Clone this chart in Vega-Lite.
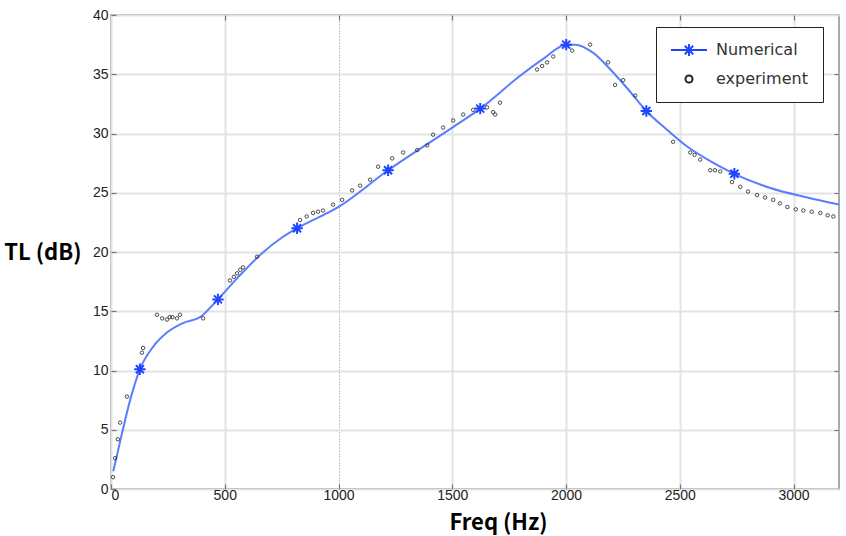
{
  "$schema": "https://vega.github.io/schema/vega-lite/v6.json",
  "width": 728,
  "height": 474,
  "autosize": "none",
  "padding": {"left": 111, "top": 15, "right": 7, "bottom": 47},
  "background": "white",
  "config": {
    "view": {"stroke": "#8c8c8c", "strokeWidth": 1.5},
    "axis": {
      "labelFont": "Liberation Sans",
      "labelFontSize": 14,
      "labelColor": "#222",
      "titleFont": "Noto Sans CJK KR",
      "titleFontWeight": "bold",
      "titleFontSize": 22,
      "titleColor": "black",
      "domain": false,
      "tickColor": "#777777",
      "tickSize": -5,
      "tickWidth": 1.2,
      "gridColor": "#e3e3e3",
      "gridWidth": 2
    },
    "legend": {
      "title": null,
      "orient": "none",
      "legendX": 545,
      "legendY": 12,
      "direction": "vertical",
      "strokeColor": "#222",
      "fillColor": "white",
      "padding": 15,
      "rowPadding": 11,
      "symbolOffset": 10,
      "symbolOpacity": 1,
      "labelFont": "DejaVu Sans",
      "labelFontSize": 16,
      "labelColor": "#333",
      "labelOffset": 19,
      "labelLimit": 200
    }
  },
  "data": {
    "values": [
      {"s": "curve", "f": 10, "tl": 1.5},
      {"s": "curve", "f": 40, "tl": 4.0},
      {"s": "curve", "f": 84, "tl": 7.5},
      {"s": "curve", "f": 127, "tl": 10.1},
      {"s": "curve", "f": 185, "tl": 12.0},
      {"s": "curve", "f": 246, "tl": 13.2},
      {"s": "curve", "f": 317, "tl": 14.0},
      {"s": "curve", "f": 391, "tl": 14.5},
      {"s": "curve", "f": 470, "tl": 16.0},
      {"s": "curve", "f": 560, "tl": 17.9},
      {"s": "curve", "f": 664, "tl": 19.9},
      {"s": "curve", "f": 750, "tl": 21.2},
      {"s": "curve", "f": 818, "tl": 22.0},
      {"s": "curve", "f": 1000, "tl": 23.8},
      {"s": "curve", "f": 1218, "tl": 26.9},
      {"s": "curve", "f": 1500, "tl": 30.5},
      {"s": "curve", "f": 1623, "tl": 32.1},
      {"s": "curve", "f": 1800, "tl": 34.9},
      {"s": "curve", "f": 1900, "tl": 36.3},
      {"s": "curve", "f": 2001, "tl": 37.5},
      {"s": "curve", "f": 2040, "tl": 37.5},
      {"s": "curve", "f": 2120, "tl": 36.8},
      {"s": "curve", "f": 2195, "tl": 35.4},
      {"s": "curve", "f": 2270, "tl": 33.8},
      {"s": "curve", "f": 2353, "tl": 31.9},
      {"s": "curve", "f": 2445, "tl": 30.3},
      {"s": "curve", "f": 2533, "tl": 28.9},
      {"s": "curve", "f": 2640, "tl": 27.6},
      {"s": "curve", "f": 2740, "tl": 26.6},
      {"s": "curve", "f": 2898, "tl": 25.4},
      {"s": "curve", "f": 3061, "tl": 24.6},
      {"s": "curve", "f": 3200, "tl": 24.0},
      {"s": "Numerical", "f": 127, "tl": 10.1},
      {"s": "Numerical", "f": 470, "tl": 16.0},
      {"s": "Numerical", "f": 818, "tl": 22.0},
      {"s": "Numerical", "f": 1218, "tl": 26.9},
      {"s": "Numerical", "f": 1623, "tl": 32.1},
      {"s": "Numerical", "f": 2001, "tl": 37.5},
      {"s": "Numerical", "f": 2353, "tl": 31.9},
      {"s": "Numerical", "f": 2740, "tl": 26.6},
      {"s": "experiment", "f": 9, "tl": 1.0},
      {"s": "experiment", "f": 18, "tl": 2.6},
      {"s": "experiment", "f": 30, "tl": 4.2},
      {"s": "experiment", "f": 40, "tl": 5.6},
      {"s": "experiment", "f": 70, "tl": 7.8},
      {"s": "experiment", "f": 136, "tl": 11.5},
      {"s": "experiment", "f": 141, "tl": 11.9},
      {"s": "experiment", "f": 202, "tl": 14.7},
      {"s": "experiment", "f": 225, "tl": 14.4},
      {"s": "experiment", "f": 246, "tl": 14.3},
      {"s": "experiment", "f": 258, "tl": 14.5},
      {"s": "experiment", "f": 270, "tl": 14.5},
      {"s": "experiment", "f": 290, "tl": 14.4},
      {"s": "experiment", "f": 303, "tl": 14.7},
      {"s": "experiment", "f": 405, "tl": 14.4},
      {"s": "experiment", "f": 523, "tl": 17.6},
      {"s": "experiment", "f": 540, "tl": 17.9},
      {"s": "experiment", "f": 554, "tl": 18.2},
      {"s": "experiment", "f": 568, "tl": 18.5},
      {"s": "experiment", "f": 580, "tl": 18.7},
      {"s": "experiment", "f": 642, "tl": 19.6},
      {"s": "experiment", "f": 831, "tl": 22.7},
      {"s": "experiment", "f": 860, "tl": 23.0},
      {"s": "experiment", "f": 888, "tl": 23.3},
      {"s": "experiment", "f": 910, "tl": 23.4},
      {"s": "experiment", "f": 932, "tl": 23.5},
      {"s": "experiment", "f": 976, "tl": 24.0},
      {"s": "experiment", "f": 1016, "tl": 24.4},
      {"s": "experiment", "f": 1060, "tl": 25.2},
      {"s": "experiment", "f": 1095, "tl": 25.6},
      {"s": "experiment", "f": 1139, "tl": 26.1},
      {"s": "experiment", "f": 1174, "tl": 27.2},
      {"s": "experiment", "f": 1236, "tl": 27.9},
      {"s": "experiment", "f": 1284, "tl": 28.4},
      {"s": "experiment", "f": 1346, "tl": 28.6},
      {"s": "experiment", "f": 1390, "tl": 29.0},
      {"s": "experiment", "f": 1416, "tl": 29.9},
      {"s": "experiment", "f": 1460, "tl": 30.5},
      {"s": "experiment", "f": 1504, "tl": 31.1},
      {"s": "experiment", "f": 1548, "tl": 31.6},
      {"s": "experiment", "f": 1592, "tl": 32.0},
      {"s": "experiment", "f": 1653, "tl": 32.2},
      {"s": "experiment", "f": 1680, "tl": 31.8},
      {"s": "experiment", "f": 1689, "tl": 31.6},
      {"s": "experiment", "f": 1710, "tl": 32.6},
      {"s": "experiment", "f": 1873, "tl": 35.4},
      {"s": "experiment", "f": 1895, "tl": 35.7},
      {"s": "experiment", "f": 1917, "tl": 36.0},
      {"s": "experiment", "f": 1944, "tl": 36.5},
      {"s": "experiment", "f": 2027, "tl": 37.0},
      {"s": "experiment", "f": 2106, "tl": 37.5},
      {"s": "experiment", "f": 2185, "tl": 36.0},
      {"s": "experiment", "f": 2216, "tl": 34.1},
      {"s": "experiment", "f": 2251, "tl": 34.5},
      {"s": "experiment", "f": 2304, "tl": 33.2},
      {"s": "experiment", "f": 2471, "tl": 29.3},
      {"s": "experiment", "f": 2546, "tl": 28.4},
      {"s": "experiment", "f": 2565, "tl": 28.2},
      {"s": "experiment", "f": 2590, "tl": 27.8},
      {"s": "experiment", "f": 2634, "tl": 26.9},
      {"s": "experiment", "f": 2655, "tl": 26.9},
      {"s": "experiment", "f": 2678, "tl": 26.8},
      {"s": "experiment", "f": 2730, "tl": 25.9},
      {"s": "experiment", "f": 2766, "tl": 25.5},
      {"s": "experiment", "f": 2800, "tl": 25.1},
      {"s": "experiment", "f": 2840, "tl": 24.8},
      {"s": "experiment", "f": 2875, "tl": 24.6},
      {"s": "experiment", "f": 2911, "tl": 24.4},
      {"s": "experiment", "f": 2940, "tl": 24.1},
      {"s": "experiment", "f": 2973, "tl": 23.8},
      {"s": "experiment", "f": 3010, "tl": 23.6},
      {"s": "experiment", "f": 3043, "tl": 23.5},
      {"s": "experiment", "f": 3080, "tl": 23.4},
      {"s": "experiment", "f": 3118, "tl": 23.3},
      {"s": "experiment", "f": 3150, "tl": 23.1},
      {"s": "experiment", "f": 3175, "tl": 23.0}
    ]
  },
  "resolve": {"axis": {"x": "independent", "y": "independent"}},
  "layer": [
    {
      "transform": [{"filter": "datum.s === 'curve'"}],
      "mark": {"type": "line", "interpolate": "monotone", "color": "#5a7dff", "strokeWidth": 2},
      "encoding": {
        "x": {
          "field": "f",
          "type": "quantitative",
          "title": "Freq (Hz)",
          "scale": {"domain": [0, 3200], "nice": false, "zero": false},
          "axis": {
            "values": [0, 500, 1000, 1500, 2000, 2500, 3000],
            "format": "d",
            "labelPadding": 4,
            "titleX": 387,
            "titleY": 33,
            "titleBaseline": "middle",
            "gridDash": {"condition": {"test": "datum.value === 1000", "value": [1, 2]}, "value": []},
            "gridColor": {"condition": {"test": "datum.value === 1000", "value": "#888888"}, "value": "#e3e3e3"},
            "gridWidth": {"condition": {"test": "datum.value === 1000", "value": 1}, "value": 2}
          }
        },
        "y": {
          "field": "tl",
          "type": "quantitative",
          "title": "TL (dB)",
          "scale": {"domain": [0, 40], "nice": false},
          "axis": {
            "values": [0, 5, 10, 15, 20, 25, 30, 35, 40],
            "format": "d",
            "labelPadding": 8,
            "titleAngle": 0,
            "titleAlign": "right",
            "titleBaseline": "middle",
            "titleX": -30,
            "titleY": 237
          }
        }
      }
    },
    {
      "transform": [{"filter": "datum.s === 'experiment'"}],
      "mark": {"type": "point", "shape": "circle", "filled": false, "size": 12, "strokeWidth": 0.8, "color": "#222222", "opacity": 1},
      "encoding": {
        "x": {
          "field": "f",
          "type": "quantitative",
          "axis": {"orient": "top", "values": [500, 1000, 1500, 2000, 2500, 3000], "labels": false, "grid": false, "ticks": true, "title": null}
        },
        "y": {
          "field": "tl",
          "type": "quantitative",
          "axis": {"orient": "right", "values": [5, 10, 15, 20, 25, 30, 35], "labels": false, "grid": false, "ticks": true, "title": null}
        }
      }
    },
    {
      "transform": [{"filter": "datum.s === 'Numerical'"}],
      "mark": {"type": "point", "shape": "M-1,0L1,0M0,-1L0,1M-0.7,-0.7L0.7,0.7M-0.7,0.7L0.7,-0.7", "filled": false, "size": 130, "strokeWidth": 2, "color": "#1f45ff", "opacity": 1},
      "encoding": {
        "x": {"field": "f", "type": "quantitative", "axis": null},
        "y": {"field": "tl", "type": "quantitative", "axis": null}
      }
    },
    {
      "transform": [{"filter": "datum.s !== 'curve'"}],
      "mark": {"type": "point", "filled": false, "opacity": 0},
      "encoding": {
        "x": {"field": "f", "type": "quantitative", "axis": null},
        "y": {"field": "tl", "type": "quantitative", "axis": null},
        "shape": {
          "field": "s",
          "type": "nominal",
          "scale": {
            "domain": ["Numerical", "experiment"],
            "range": ["M-3,0L3,0M0,-1L0,1M-0.7,-0.7L0.7,0.7M-0.7,0.7L0.7,-0.7", "circle"]
          }
        },
        "color": {
          "field": "s",
          "type": "nominal",
          "scale": {"domain": ["Numerical", "experiment"], "range": ["#1f45ff", "#222222"]}
        },
        "size": {
          "field": "s",
          "type": "nominal",
          "scale": {"domain": ["Numerical", "experiment"], "range": [144, 50]}
        },
        "strokeWidth": {
          "field": "s",
          "type": "nominal",
          "scale": {"domain": ["Numerical", "experiment"], "range": [2, 2]}
        }
      }
    }
  ]
}
